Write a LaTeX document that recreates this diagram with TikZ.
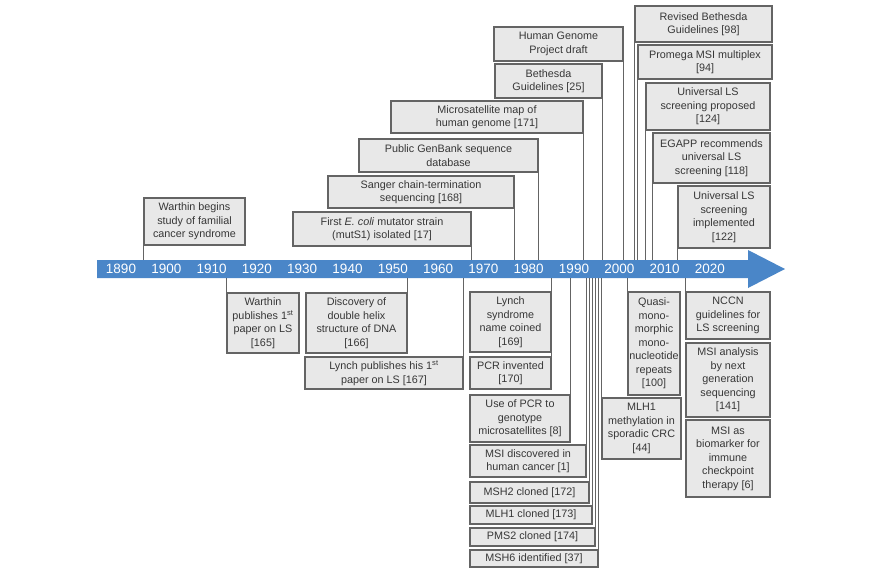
\documentclass[tikz,border=0pt]{standalone}
\usepackage{fontspec}
\setmainfont{Liberation Sans}
\usepackage{tikz}
\usetikzlibrary{calc}
\usepackage{xcolor}

\definecolor{barblue}{RGB}{74,134,200}
\definecolor{boxgrey}{RGB}{232,232,232}
\definecolor{edgegrey}{RGB}{100,100,100}
\definecolor{txtgrey}{RGB}{55,55,55}

\tikzset{
  event/.style={rectangle, draw=edgegrey, fill=boxgrey, line width=1.1pt,
    align=center, inner sep=0pt, text=txtgrey,
    font=\fontsize{10.8}{13.5}\selectfont},
  link/.style={draw=edgegrey, line width=1.1pt},
  yearlbl/.style={text=white, inner sep=0pt, font=\fontsize{13.5}{14}\selectfont}
}

\begin{document}
\begin{tikzpicture}[x=1pt, y=-1pt]
  \useasboundingbox[fill=white] (0,0) rectangle (870,568);

  % Time axis
  \fill[barblue] (97,260) -- (748,260) -- (748,250) -- (785,269)
    -- (748,288) -- (748,278) -- (97,278) -- cycle;
  \coordinate (barN) at (0,260);
  \coordinate (barS) at (0,278);
  \foreach \yr [count=\k from 0] in {1890,1900,...,2020}{
    \node[yearlbl] (yr\yr) at ({121+45.3*\k},269) {\yr};
  }

  % Events above the axis
  \node[event, minimum width=101pt, minimum height=47pt] (warthin) at (194.5,221.5)
    {Warthin begins\\study of familial\\cancer syndrome};
  \node[event, minimum width=178pt, minimum height=34pt] (ecoli) at (382,229)
    {First \textit{E. coli} mutator strain\\(mutS1) isolated [17]};
  \node[event, minimum width=186pt, minimum height=32pt] (sanger) at (421,192)
    {Sanger chain-termination\\sequencing [168]};
  \node[event, minimum width=179pt, minimum height=33pt] (genbank) at (448.5,155.5)
    {Public GenBank sequence\\database};
  \node[event, minimum width=192pt, minimum height=32pt] (microsat) at (487,117)
    {Microsatellite map of\\human genome [171]};
  \node[event, minimum width=107pt, minimum height=34pt] (bethesda) at (548.5,81)
    {Bethesda\\Guidelines [25]};
  \node[event, minimum width=129pt, minimum height=34pt] (genome) at (558.5,44)
    {Human Genome\\Project draft};
  \node[event, minimum width=137pt, minimum height=36pt] (revbeth) at (703.5,24)
    {Revised Bethesda\\Guidelines [98]};
  \node[event, minimum width=134pt, minimum height=34pt] (promega) at (705,62)
    {Promega MSI multiplex\\{[94]}};
  \node[event, minimum width=124pt, minimum height=47pt] (lsprop) at (708,106.5)
    {Universal LS\\screening proposed\\{[124]}};
  \node[event, minimum width=117pt, minimum height=50pt] (egapp) at (711.5,158)
    {EGAPP recommends\\universal LS\\screening [118]};
  \node[event, minimum width=92pt, minimum height=62pt] (lsimpl) at (724,217)
    {Universal LS\\screening\\implemented\\{[122]}};

  % Events below the axis
  \node[event, minimum width=72pt, minimum height=60pt] (warthinpub) at (263,323)
    {Warthin\\publishes 1\textsuperscript{st}\\paper on LS\\{[165]}};
  \node[event, minimum width=101pt, minimum height=60pt] (dna) at (356.5,323)
    {Discovery of\\double helix\\structure of DNA\\{[166]}};
  \node[event, minimum width=158pt, minimum height=32pt] (lynchpub) at (384,373)
    {Lynch publishes his 1\textsuperscript{st}\\paper on LS [167]};
  \node[event, minimum width=81pt, minimum height=60pt] (lynchname) at (510.5,322)
    {Lynch\\syndrome\\name coined\\{[169]}};
  \node[event, minimum width=81pt, minimum height=32pt] (pcr) at (510.5,373)
    {PCR invented\\{[170]}};
  \node[event, minimum width=100pt, minimum height=47pt] (pcrms) at (520,418.5)
    {Use of PCR to\\genotype\\microsatellites [8]};
  \node[event, minimum width=116pt, minimum height=32pt] (msi) at (528,461)
    {MSI discovered in\\human cancer [1]};
  \node[event, minimum width=119pt, minimum height=21pt] (msh2) at (529.5,492.5)
    {MSH2 cloned [172]};
  \node[event, minimum width=122pt, minimum height=18pt] (mlh1) at (531,515)
    {MLH1 cloned [173]};
  \node[event, minimum width=125pt, minimum height=18pt] (pms2) at (532.5,537)
    {PMS2 cloned [174]};
  \node[event, minimum width=128pt, minimum height=17pt] (msh6) at (534,558.5)
    {MSH6 identified [37]};
  \node[event, minimum width=79pt, minimum height=61pt] (methyl) at (641.5,428.5)
    {MLH1\\methylation in\\sporadic CRC\\{[44]}};
  \node[event, minimum width=52pt, minimum height=103pt] (quasi) at (654,343.5)
    {Quasi-\\mono-\\morphic\\mono-\\nucleotide\\repeats\\{[100]}};
  \node[event, minimum width=84pt, minimum height=47pt] (nccn) at (728,315.5)
    {NCCN\\guidelines for\\LS screening};
  \node[event, minimum width=84pt, minimum height=74pt] (msings) at (728,380)
    {MSI analysis\\by next\\generation\\sequencing\\{[141]}};
  \node[event, minimum width=84pt, minimum height=77pt] (msibio) at (728,458.5)
    {MSI as\\biomarker for\\immune\\checkpoint\\therapy [6]};

  % Links to the axis
  \foreach \n in {warthin,revbeth,promega,lsprop,egapp,lsimpl}
    \draw[link] (\n.south west) -- (\n.south west |- barN);
  \foreach \n in {ecoli,sanger,genbank,microsat,bethesda,genome}
    \draw[link] (\n.south east) -- (\n.south east |- barN);
  \foreach \n in {warthinpub,methyl,quasi,nccn}
    \draw[link] (\n.north west) -- (\n.north west |- barS);
  \foreach \n in {dna,lynchpub,lynchname,pcr,pcrms,msi,msh2,mlh1,pms2,msh6}
    \draw[link] (\n.north east) -- (\n.north east |- barS);
\end{tikzpicture}
\end{document}
